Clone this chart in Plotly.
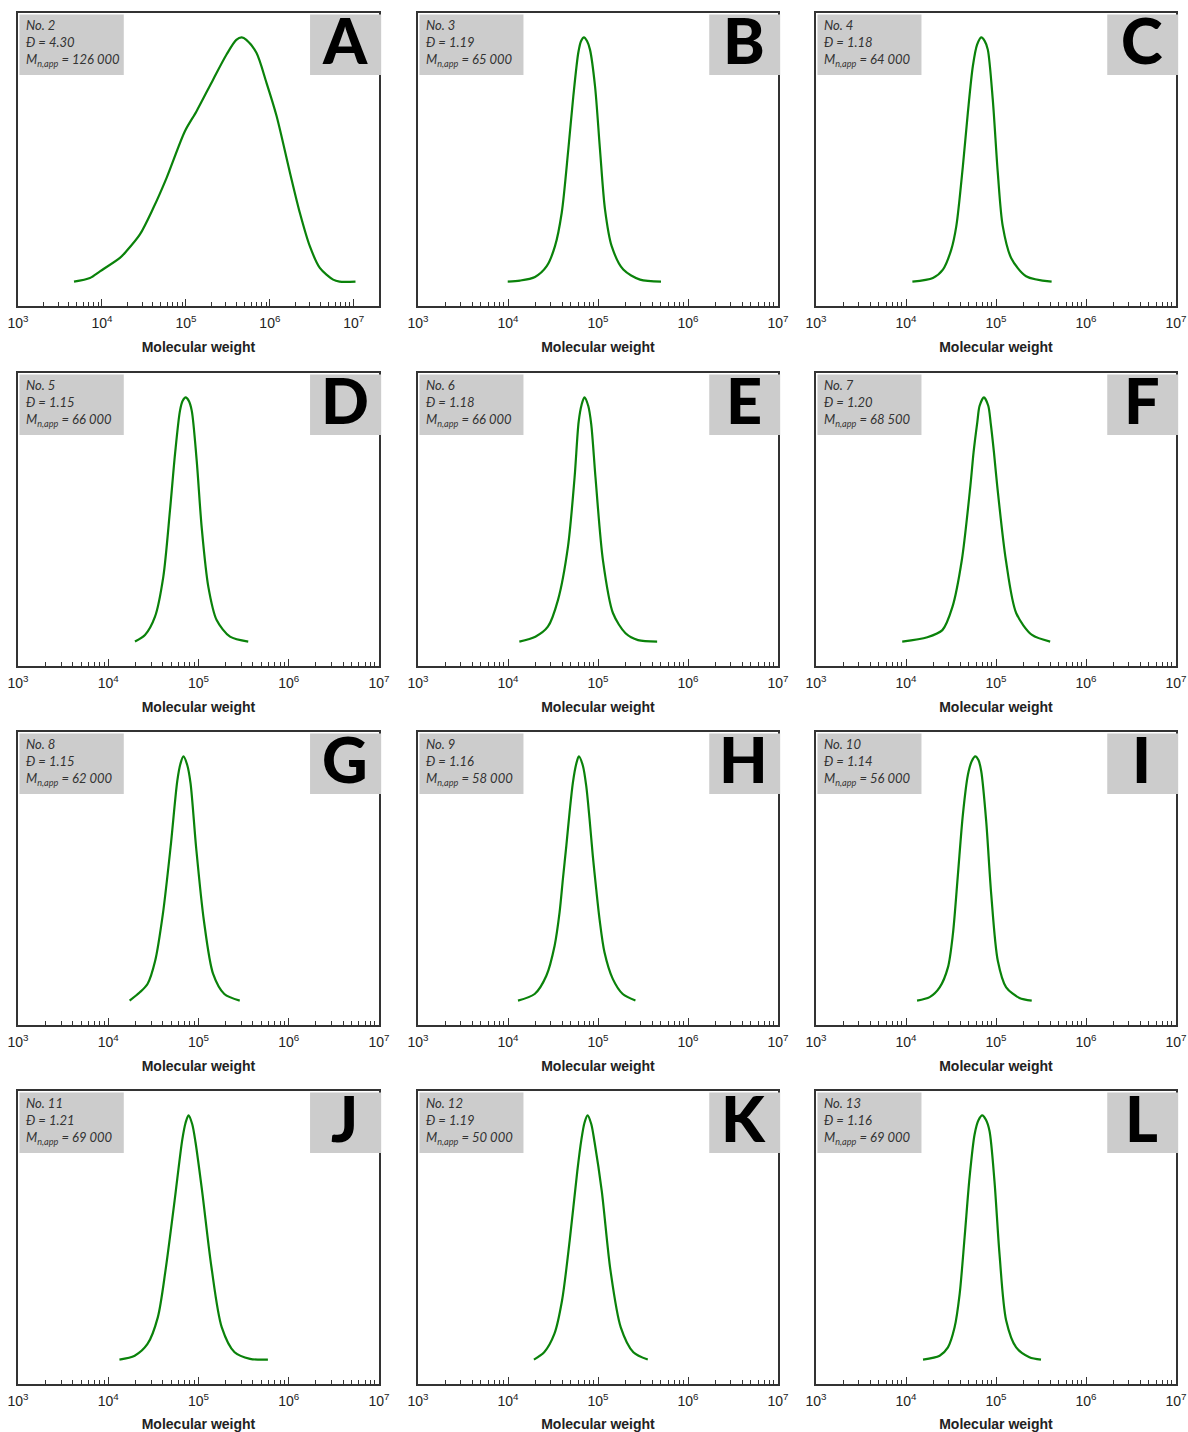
import plotly.graph_objects as go

# ---------------- data ----------------
letters = ["A", "B", "C", "D", "E", "F", "G", "H", "I", "J", "K", "L"]
sample_no = ["2", "3", "4", "5", "6", "7", "8", "9", "10", "11", "12", "13"]
dispersity = ["4.30", "1.19", "1.18", "1.15", "1.18", "1.20", "1.15", "1.16", "1.14", "1.21", "1.19", "1.16"]
mn_app = ["126 000", "65 000", "64 000", "66 000", "66 000", "68 500", "62 000", "58 000",
          "56 000", "69 000", "50 000", "69 000"]

logM_A = [3.667, 3.857, 3.976, 4.214, 4.29, 4.452, 4.61, 4.77, 4.988, 5.127, 5.325, 5.484,
          5.60, 5.665, 5.72, 5.84, 5.96, 6.08, 6.24, 6.357, 6.476, 6.595, 6.754, 6.83, 7.02]
y_A = [0, 0.015, 0.042, 0.097, 0.124, 0.193, 0.30, 0.425, 0.616, 0.698, 0.828, 0.93,
       0.99, 1.0, 0.99, 0.937, 0.814, 0.678, 0.445, 0.282, 0.145, 0.056, 0.008, 0, 0]

logM_B = [3.997, 4.133, 4.3, 4.43, 4.522, 4.597, 4.67, 4.726, 4.781, 4.812, 4.844, 4.878,
          4.911, 4.967, 5.022, 5.078, 5.152, 5.281, 5.467, 5.7]
y_B = [0, 0.004, 0.019, 0.063, 0.145, 0.282, 0.541, 0.76, 0.937, 0.985, 1, 0.985,
       0.95, 0.80, 0.541, 0.295, 0.145, 0.049, 0.008, 0]

logM_C = [4.071, 4.299, 4.41, 4.503, 4.559, 4.632, 4.687, 4.743, 4.79, 4.836, 4.875, 4.909,
          4.964, 5.02, 5.075, 5.168, 5.334, 5.618]
y_C = [0, 0.015, 0.049, 0.131, 0.227, 0.473, 0.691, 0.883, 0.97, 1, 0.985, 0.95,
       0.746, 0.445, 0.227, 0.097, 0.022, 0]

logM_D = [4.296, 4.407, 4.518, 4.61, 4.684, 4.74, 4.795, 4.826, 4.858, 4.891, 4.925, 4.98,
          5.035, 5.109, 5.201, 5.349, 5.551]
y_D = [0, 0.027, 0.102, 0.265, 0.537, 0.769, 0.946, 0.987, 1, 0.987, 0.946, 0.741,
       0.469, 0.224, 0.088, 0.02, 0]

logM_E = [4.126, 4.304, 4.443, 4.555, 4.666, 4.74, 4.785, 4.818, 4.849, 4.892, 4.925, 4.972,
          5.055, 5.167, 5.306, 5.445, 5.657]
y_E = [0, 0.02, 0.061, 0.17, 0.388, 0.673, 0.9, 0.97, 1, 0.965, 0.89, 0.673,
       0.333, 0.116, 0.034, 0.006, 0]

logM_F = [3.958, 4.237, 4.404, 4.516, 4.62, 4.716, 4.751, 4.792, 4.818, 4.866, 4.914, 4.94,
          4.977, 5.013, 5.11, 5.225, 5.40, 5.602]
y_F = [0, 0.018, 0.047, 0.142, 0.333, 0.64, 0.776, 0.898, 0.966, 1, 0.966, 0.898,
       0.776, 0.64, 0.333, 0.116, 0.027, 0]

logM_G = [4.237, 4.35, 4.435, 4.52, 4.605, 4.69, 4.765, 4.80, 4.833, 4.875, 4.912, 4.974,
          5.06, 5.162, 5.286, 5.457]
y_G = [0, 0.034, 0.068, 0.163, 0.354, 0.626, 0.9, 0.97, 1, 0.965, 0.89, 0.626,
       0.327, 0.109, 0.027, 0]

logM_H = [4.111, 4.296, 4.426, 4.518, 4.573, 4.61, 4.648, 4.684, 4.721, 4.758, 4.787, 4.832,
          4.869, 4.906, 4.942, 4.98, 5.017, 5.072, 5.164, 5.275, 5.416]
y_H = [0, 0.027, 0.102, 0.225, 0.361, 0.498, 0.634, 0.77, 0.893, 0.969, 1, 0.962,
       0.88, 0.744, 0.594, 0.457, 0.334, 0.198, 0.089, 0.027, 0]

logM_I = [4.123, 4.263, 4.374, 4.466, 4.521, 4.577, 4.632, 4.688, 4.73, 4.77, 4.805, 4.836,
          4.891, 4.947, 5.02, 5.113, 5.26, 5.397]
y_I = [0, 0.014, 0.054, 0.136, 0.272, 0.517, 0.762, 0.925, 0.98, 1, 0.985, 0.939,
       0.735, 0.435, 0.163, 0.054, 0.011, 0]

logM_J = [4.124, 4.293, 4.435, 4.549, 4.634, 4.735, 4.82, 4.857, 4.889, 4.93, 4.967, 5.04,
          5.144, 5.258, 5.4, 5.571, 5.769]
y_J = [0, 0.016, 0.064, 0.173, 0.364, 0.65, 0.9, 0.97, 1, 0.965, 0.89, 0.69,
       0.377, 0.132, 0.03, 0.003, 0]

logM_K = [4.288, 4.402, 4.515, 4.6, 4.685, 4.77, 4.815, 4.85, 4.884, 4.925, 4.962, 5.042,
          5.139, 5.253, 5.393, 5.553]
y_K = [0, 0.03, 0.105, 0.241, 0.486, 0.772, 0.9, 0.97, 1, 0.965, 0.89, 0.69,
       0.364, 0.132, 0.03, 0]

logM_L = [4.189, 4.374, 4.466, 4.54, 4.596, 4.651, 4.706, 4.762, 4.805, 4.847, 4.888, 4.928,
          4.983, 5.039, 5.113, 5.224, 5.371, 5.5]
y_L = [0, 0.016, 0.05, 0.132, 0.268, 0.5, 0.745, 0.922, 0.98, 1, 0.982, 0.936,
       0.731, 0.432, 0.16, 0.05, 0.01, 0]

curves = [(logM_A, y_A), (logM_B, y_B), (logM_C, y_C), (logM_D, y_D), (logM_E, y_E),
          (logM_F, y_F), (logM_G, y_G), (logM_H, y_H), (logM_I, y_I), (logM_J, y_J),
          (logM_K, y_K), (logM_L, y_L)]

tick_exponents = [3, 4, 5, 6, 7]

# ---------------- layout geometry ----------------
W, H = 1188, 1432
col_px = [(18, 379), (418, 778), (816, 1176)]
row_px = [(13, 306), (373, 666), (732, 1025), (1091, 1384)]

GREEN = "#0a820a"
LINE = "#333333"
GRAY = "#cccccc"

fig = go.Figure()
layout = dict(
    width=W, height=H, margin=dict(l=0, r=0, t=0, b=0, autoexpand=False),
    paper_bgcolor="white", plot_bgcolor="white", showlegend=False,
)
annotations = []
shapes = []

major_vals = [10 ** e for e in tick_exponents]
major_text = [f"10<sup>{e}</sup>" for e in tick_exponents]
minor_vals = [m * 10 ** e for e in tick_exponents[:-1] for m in range(2, 10)]

for i, (lm, yv) in enumerate(curves):
    r, c = divmod(i, 3)
    xn = "x" if i == 0 else f"x{i + 1}"
    yn = "y" if i == 0 else f"y{i + 1}"
    xk = "xaxis" if i == 0 else f"xaxis{i + 1}"
    yk = "yaxis" if i == 0 else f"yaxis{i + 1}"
    x0p, x1p = col_px[c]
    t_p, b_p = row_px[r]

    fig.add_trace(go.Scatter(
        x=[10 ** v for v in lm], y=yv, mode="lines",
        line=dict(color=GREEN, width=2.2, shape="spline", smoothing=0.8),
        xaxis=xn, yaxis=yn, hoverinfo="skip",
    ))

    layout[xk] = dict(
        domain=[x0p / W, x1p / W], anchor=yn, type="log", automargin=False,
        range=[3, 7.3] if i == 0 else [3, 7],
        showline=True, linecolor=LINE, linewidth=1.5, mirror=True,
        ticks="inside", ticklen=7, tickwidth=1, tickcolor=LINE,
        tickvals=major_vals, ticktext=major_text, ticklabelstandoff=3,
        tickfont=dict(family="Liberation Sans, Arial, sans-serif", size=14, color="#222"),
        minor=dict(ticks="inside", ticklen=4, tickwidth=1, tickcolor=LINE,
                   tickvals=minor_vals, showgrid=False),
        showgrid=False, zeroline=False,
        title=dict(text="<b>Molecular weight</b>", standoff=13,
                   font=dict(family="Liberation Sans, Arial, sans-serif", size=14, color="#222")),
    )
    layout[yk] = dict(
        domain=[1 - b_p / H, 1 - t_p / H], anchor=xn, range=[-0.1, 1.1], automargin=False,
        showline=True, linecolor=LINE, linewidth=1.5, mirror=True,
        showticklabels=False, ticks="", showgrid=False, zeroline=False,
    )

    # info box (top-left) and letter box (top-right)
    shapes.append(dict(type="rect", xref=f"{xn} domain", yref=f"{yn} domain",
                       x0=0.004, x1=0.293, y0=0.788, y1=0.995,
                       fillcolor=GRAY, line=dict(width=0), layer="above"))
    shapes.append(dict(type="rect", xref=f"{xn} domain", yref=f"{yn} domain",
                       x0=0.809, x1=1.006, y0=0.788, y1=0.995,
                       fillcolor=GRAY, line=dict(width=0), layer="above"))

    annotations.append(dict(
        xref=f"{xn} domain", yref=f"{yn} domain", x=0.016, y=0.993,
        xanchor="left", yanchor="top", align="left", showarrow=False,
        text=(f"No. {sample_no[i]}<br>Đ = {dispersity[i]}<br>"
              f"M<sub>n,app</sub> = {mn_app[i]}"),
        font=dict(family="Lato, Open Sans, sans-serif", size=13, color="#333", style="italic"),
    ))
    annotations.append(dict(
        xref=f"{xn} domain", yref=f"{yn} domain", x=0.905, y=0.909,
        xanchor="center", yanchor="middle", showarrow=False,
        text=letters[i],
        font=dict(family="Lato, Arial Black, sans-serif", size=63, color="black", weight=900),
    ))

layout["annotations"] = annotations
layout["shapes"] = shapes
fig.update_layout(**layout)

fig.write_html("out.html")
